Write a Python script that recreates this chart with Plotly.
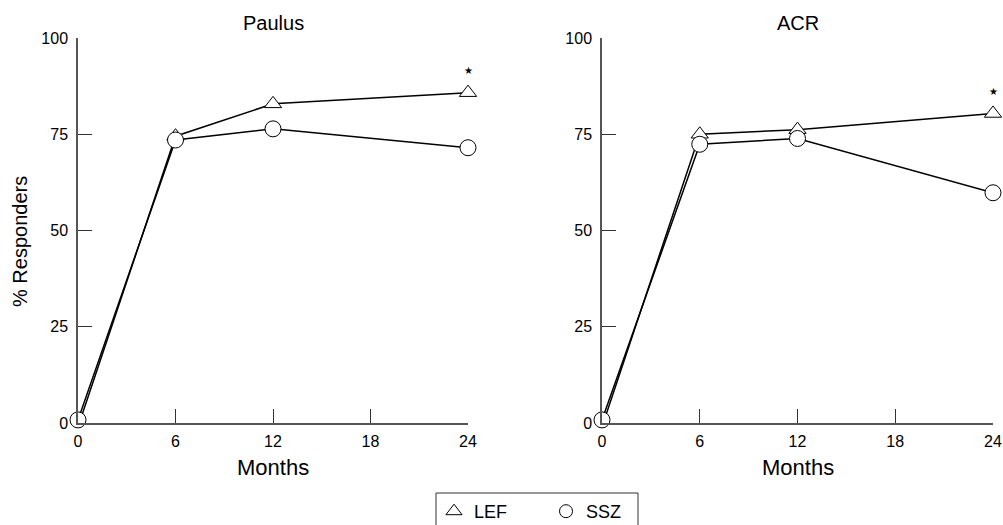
import plotly.graph_objects as go

months = [0, 6, 12, 24]
paulus_lef = [-1.0, 74.5, 82.9, 85.8]
paulus_ssz = [0.8, 73.5, 76.4, 71.5]
acr_lef = [-1.0, 75.0, 76.2, 80.4]
acr_ssz = [0.8, 72.4, 73.9, 59.8]
panel_titles = ["Paulus", "ACR"]
x_ticks = [0, 6, 12, 18, 24]
y_ticks = [0, 25, 50, 75, 100]

FONT = "Liberation Sans, Arial, sans-serif"
fig = go.Figure()

W, H = 1003, 525
xd1 = [78 / W, 468 / W]
xd2 = [602 / W, 993 / W]
yd = [(H - 423) / H, (H - 38) / H]

panels = [("x", "y", paulus_lef, paulus_ssz), ("x2", "y2", acr_lef, acr_ssz)]
for i, (xa, ya, lef, ssz) in enumerate(panels):
    fig.add_trace(go.Scatter(x=months, y=lef, xaxis=xa, yaxis=ya, mode="lines+markers",
                             line=dict(color="black", width=1.5),
                             marker=dict(symbol="triangle-up", size=15, color="white",
                                         line=dict(color="black", width=1)),
                             showlegend=False, cliponaxis=False))
    fig.add_trace(go.Scatter(x=months, y=ssz, xaxis=xa, yaxis=ya, mode="lines+markers",
                             line=dict(color="black", width=1.5),
                             marker=dict(symbol="circle", size=16, color="white",
                                         line=dict(color="black", width=1)),
                             showlegend=False, cliponaxis=False))
    fig.add_annotation(x=months[-1], y=lef[-1], xref=xa, yref=ya, text="★", showarrow=False,
                       yshift=22, font=dict(size=10, color="black"))

# legend entries
fig.add_trace(go.Scatter(x=[None], y=[None], mode="markers", name="LEF",
                         marker=dict(symbol="triangle-up", size=14, color="white",
                                     line=dict(color="black", width=1))))
fig.add_trace(go.Scatter(x=[None], y=[None], mode="markers", name="SSZ",
                         marker=dict(symbol="circle", size=13, color="white",
                                     line=dict(color="black", width=1))))

axis_common = dict(showgrid=False, zeroline=False, showline=True, linecolor="#555",
                   linewidth=1.5, ticks="inside", ticklen=14, tickcolor="#333", tickwidth=1,
                   automargin=False,
                   tickfont=dict(family=FONT, size=16, color="black"))

fig.update_layout(
    width=W, height=H, margin=dict(l=0, r=0, t=0, b=0, autoexpand=False),
    paper_bgcolor="white", plot_bgcolor="white",
    font=dict(family=FONT, color="black"),
    xaxis=dict(domain=xd1, range=[0, 24], tickvals=x_ticks, anchor="y", ticklabelstandoff=3, **axis_common),
    yaxis=dict(domain=yd, range=[0, 100], tickvals=y_ticks, anchor="x", ticklabelstandoff=5, **axis_common),
    xaxis2=dict(domain=xd2, range=[0, 24], tickvals=x_ticks, anchor="y2", ticklabelstandoff=3, **axis_common),
    yaxis2=dict(domain=yd, range=[0, 100], tickvals=y_ticks, anchor="x2", ticklabelstandoff=5, **axis_common),
    legend=dict(orientation="h", x=434 / W, xanchor="left", y=(H - 493) / H, yanchor="top",
                borderwidth=0, bgcolor="rgba(0,0,0,0)", font=dict(family=FONT, size=18),
                entrywidth=67, entrywidthmode="pixels", tracegroupgap=0),
    showlegend=True,
    shapes=[dict(type="rect", xref="paper", yref="paper", x0=436 / W, x1=638 / W,
                 y0=-0.05, y1=(H - 493) / H, line=dict(color="#333", width=1),
                 fillcolor="rgba(0,0,0,0)", layer="above")],
)

for i, t in enumerate(panel_titles):
    xc = (xd1[0] + xd1[1]) / 2 if i == 0 else (xd2[0] + xd2[1]) / 2
    fig.add_annotation(x=xc, y=(H - 23) / H, xref="paper", yref="paper", text=t,
                       xanchor="center", yanchor="middle",
                       showarrow=False, font=dict(size=20, family=FONT))
    fig.add_annotation(x=xc, y=(H - 467) / H, xref="paper", yref="paper", text="Months",
                       xanchor="center", yanchor="middle",
                       showarrow=False, font=dict(size=22, family=FONT))

fig.add_annotation(x=20 / W, y=(H - 242) / H, xref="paper", yref="paper", text="% Responders",
                   xanchor="center", yanchor="middle",
                   textangle=-90, showarrow=False, font=dict(size=20, family=FONT))

fig.write_html("out.html", config={"displayModeBar": False},
               post_script="document.body.style.margin='0';document.body.style.overflow='hidden';")
